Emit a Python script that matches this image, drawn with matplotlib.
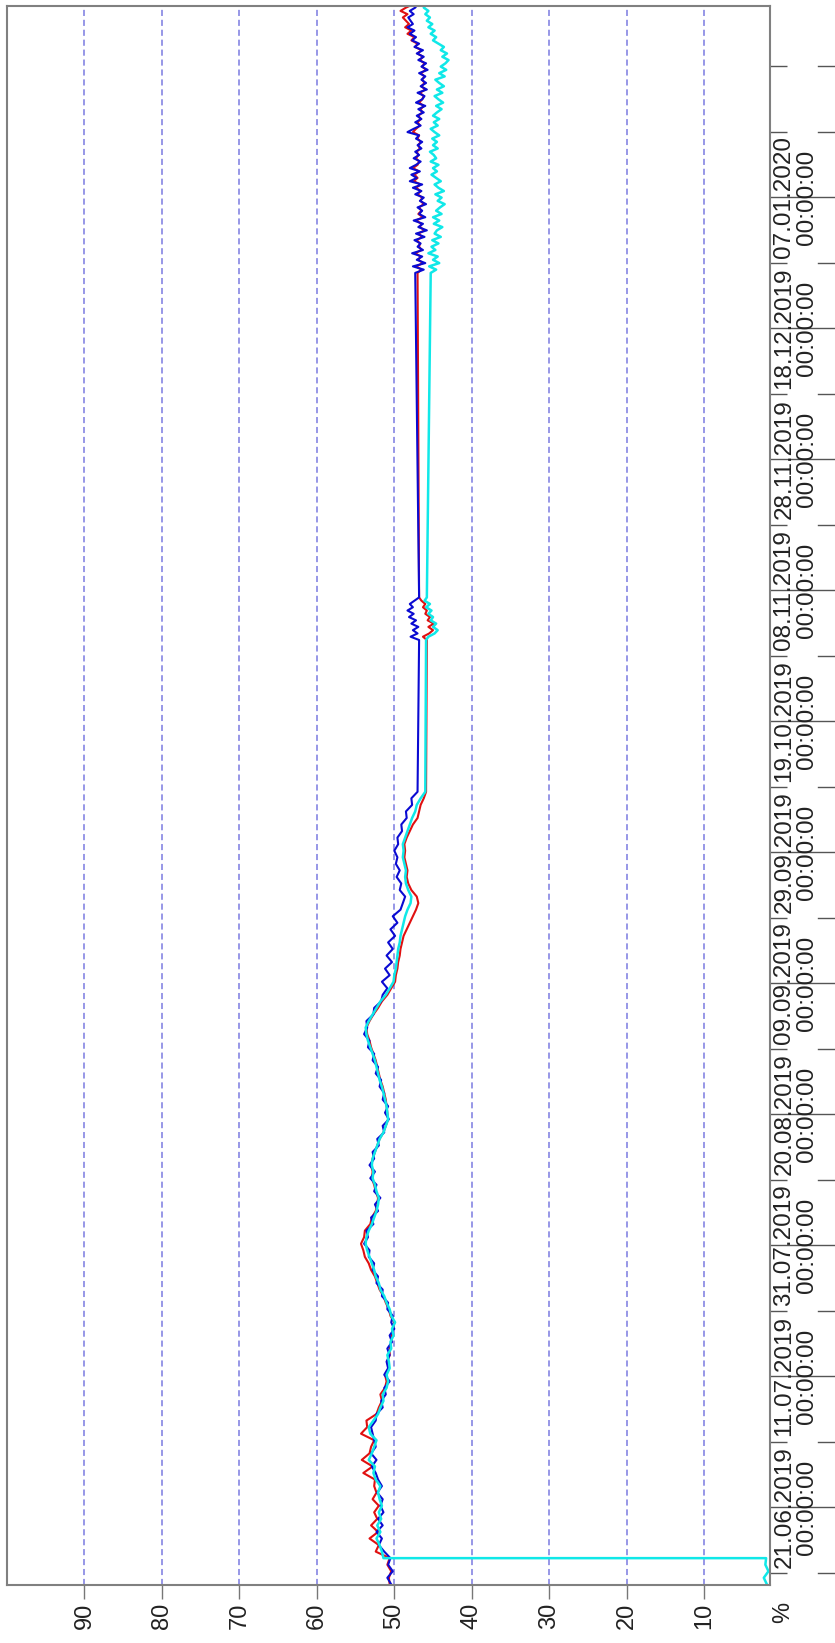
import numpy as np
import pandas as pd
import matplotlib
matplotlib.use("Agg")
import matplotlib.pyplot as plt
import matplotlib.dates as mdates
from matplotlib.ticker import FixedLocator

plt.rcParams['font.family'] = ['Liberation Sans', 'DejaVu Sans']

# time stamps of the three recorded stretches
times_a = pd.date_range("2019-06-09 04:48", periods=122, freq="D")
times_b = pd.date_range("2019-10-31 09:00", periods=14, freq="12h")
times_c = pd.date_range("2019-12-26 10:00", periods=83, freq="12h")

# cyan sensor reads ~2 % until it switches on, then jumps straight up
cyan_low = [1.9, 2.3, 1.7, 2.1, 2.0]
cyan_a = [51.4,
          51.6, 51.9, 52.3, 51.8, 52.2, 51.7, 52.0,
          51.6, 51.9, 52.1, 51.8, 52.4, 52.7, 52.5, 53.3, 52.9, 52.6,
          52.3, 53.1, 53.3, 52.7, 52.1, 51.8, 51.4, 51.5, 51.0, 50.8,
          51.0, 50.6, 50.7, 50.9, 50.4, 50.5, 50.1, 50.3, 49.9, 50.4,
          50.6, 51.0, 51.3, 51.8, 52.0, 52.4, 52.6, 52.9, 53.2, 53.5,
          53.7, 53.6, 53.3, 52.9, 52.6, 52.3, 52.1, 52.0, 52.3, 52.5,
          52.8, 52.7, 52.9, 52.8, 52.5, 52.2, 51.9, 51.4, 51.1, 50.8,
          50.9, 51.0, 51.2, 51.4, 51.6, 51.9, 52.1, 52.3, 52.5, 52.8,
          53.1, 53.4, 53.6, 53.7, 53.3, 52.8, 52.3, 51.8, 51.1, 50.6,
          50.1, 50.0, 49.8, 49.7, 49.6, 49.5, 49.3, 49.2, 49.0, 48.8,
          48.6, 48.3, 47.9, 47.8, 48.2, 48.5, 48.6, 48.5, 48.7, 48.9,
          48.8, 48.9, 48.6, 48.3, 48.0, 47.7, 47.3, 47.1, 46.6, 46.0]
blue_a = [50.4, 50.9, 50.2, 50.8, 50.5,
          51.3, 52.0, 51.6, 52.3, 51.5, 52.1, 51.4,
          51.8, 51.5, 52.2, 51.6, 52.1, 52.4, 52.9, 52.3, 53.0, 52.4,
          52.6, 52.8, 53.0, 52.4, 52.3, 51.5, 51.7, 51.1, 51.3, 50.6,
          51.3, 50.8, 51.0, 50.6, 50.9, 50.3, 50.6, 50.0, 50.4, 50.2,
          50.9, 50.8, 51.6, 51.5, 52.3, 52.1, 52.8, 52.6, 53.3, 53.2,
          53.9, 53.4, 53.6, 52.7, 53.0, 52.1, 52.5, 51.8, 52.6, 52.3,
          53.1, 52.5, 53.2, 52.6, 52.8, 52.0, 52.2, 51.3, 51.5, 50.7,
          51.2, 50.8, 51.5, 51.3, 51.9, 51.7, 52.4, 52.1, 52.8, 52.6,
          53.4, 53.2, 53.9, 53.5, 53.6, 52.7, 52.6, 51.7, 51.5, 50.9,
          51.6, 50.6, 51.2, 50.3, 51.0, 50.2, 50.8, 49.9, 50.5, 49.6,
          50.2, 49.2, 48.9, 48.6, 49.3, 49.1, 49.7, 49.3, 49.8, 49.6,
          50.0, 49.5, 49.6, 49.0, 49.1, 48.4, 48.5, 47.7, 47.8, 47.0]
red_a = [50.6, 50.7, 50.4, 50.9, 50.6,
         52.4, 52.0, 53.2, 52.1, 53.0, 52.2, 52.6,
         52.0, 52.8, 52.3, 52.6, 52.5, 54.0, 52.8, 54.2, 53.2, 53.0,
         52.6, 54.3, 53.5, 53.6, 52.3, 52.0, 51.6, 51.8, 51.2, 51.0,
         51.2, 50.7, 50.9, 50.6, 50.6, 50.4, 50.3, 50.2, 50.0, 50.5,
         50.7, 51.1, 51.4, 51.9, 52.2, 52.5, 53.0, 53.3, 53.8, 54.0,
         54.3, 53.9, 53.8, 53.1, 52.9, 52.4, 52.2, 52.1, 52.4, 52.6,
         52.9, 52.8, 53.0, 52.8, 52.5, 52.2, 51.9, 51.4, 51.1, 50.8,
         50.9, 51.0, 51.1, 51.3, 51.5, 51.8, 52.0, 52.2, 52.4, 52.7,
         53.0, 53.2, 53.5, 53.6, 53.2, 52.7, 52.1, 51.6, 50.9, 50.4,
         49.9, 49.8, 49.6, 49.5, 49.3, 49.2, 49.0, 48.8, 48.4, 48.0,
         47.6, 47.2, 46.9, 47.1, 47.8, 48.2, 48.4, 48.3, 48.5, 48.7,
         48.6, 48.7, 48.4, 48.0, 47.6, 47.0, 46.8, 46.6, 46.2, 45.9]

cyan_b = [45.9, 45.6, 44.8, 44.4, 45.0, 44.6, 45.3, 45.0, 45.6, 45.2, 45.9, 45.4, 46.1, 45.8]
blue_b = [46.8, 47.9, 47.0, 47.6, 46.9, 47.8, 47.2, 48.1, 47.5, 48.3, 47.6, 48.0, 47.4, 46.8]
red_b = [45.8, 46.3, 45.5, 45.0, 45.6, 44.9, 45.7, 45.4, 46.0, 45.8, 46.3, 46.0, 46.5, 46.8]

cyan_c = [45.3, 44.6, 45.5, 44.2, 45.0, 44.4, 45.6, 44.7, 45.2, 44.3,
          45.1, 44.0, 44.8, 44.5, 43.8, 44.9, 44.2, 45.0, 43.9, 44.6,
          44.1, 43.5, 44.4, 43.9, 44.7, 43.6, 44.3, 44.8, 44.0, 44.6,
          45.2, 44.5, 45.0, 44.3, 45.3, 44.6, 44.9, 45.4, 44.4, 45.0,
          44.5, 45.1, 44.2, 44.8, 45.3, 44.4, 44.9, 44.2, 45.0, 44.5,
          43.9, 44.6, 43.7, 44.3, 44.8, 43.8, 44.5, 43.6, 44.2, 44.7,
          43.5, 44.2, 43.3, 44.0, 43.4, 43.0, 43.8, 43.2, 44.0, 43.6,
          44.3, 45.0, 44.6, 45.3, 44.8, 45.6, 45.1, 45.8, 45.4, 46.0,
          45.6, 46.2, 45.9]
blue_c = [47.3, 46.2, 47.6, 46.0, 47.1, 46.4, 47.7, 46.3, 47.0, 46.6,
          47.4, 46.1, 47.2, 45.8, 46.9, 46.3, 47.5, 46.0, 46.8, 46.4,
          47.0, 45.9, 46.7, 46.2, 47.3, 46.5, 47.6, 46.4, 48.0, 47.1,
          47.8, 46.7, 48.0, 47.2, 46.6, 47.5, 46.8, 47.3, 46.5, 47.0,
          46.4, 47.2, 46.8, 48.3, 47.5, 46.6, 47.3, 46.5, 47.1, 46.2,
          46.9, 46.0, 47.2, 46.4, 46.1, 47.0, 45.8, 46.6, 45.9, 46.5,
          46.0, 46.8, 45.7, 46.5, 45.9, 46.9, 46.2, 47.1, 46.3, 47.4,
          46.8, 47.7, 47.2, 48.0, 47.4, 48.3, 47.6, 47.9, 48.2, 47.5,
          48.0, 47.3, 47.0]
red_c = [47.0, 46.5, 47.2, 46.3, 46.9, 46.6, 47.3, 46.5, 46.8, 46.7,
         47.1, 46.4, 46.9, 46.1, 46.7, 46.5, 47.2, 46.3, 46.9, 46.5,
         46.8, 46.2, 46.6, 46.4, 47.0, 46.6, 47.2, 46.6, 47.5, 47.0,
         47.4, 46.8, 47.6, 47.0, 46.8, 47.2, 46.9, 47.1, 46.7, 46.9,
         46.6, 47.0, 46.8, 47.6, 47.2, 46.7, 47.0, 46.6, 46.9, 46.4,
         46.6, 46.2, 46.8, 46.4, 46.2, 46.7, 46.0, 46.5, 46.1, 46.4,
         46.1, 46.6, 45.9, 46.4, 46.1, 46.7, 46.3, 47.0, 46.5, 47.3,
         47.0, 47.8, 47.4, 48.3, 47.8, 48.6, 48.1, 48.5, 48.9, 48.3,
         49.2, 48.5, 47.6]

value_ticks = [10, 20, 30, 40, 50, 60, 70, 80, 90]
date_ticks = pd.date_range("2019-06-21", "2020-01-07", freq="20D")
date_minor = pd.date_range("2019-06-11", "2020-01-27", freq="10D")
date_lim = (pd.Timestamp("2019-06-09 02:24"), pd.Timestamp("2020-02-05 04:00"))

times = times_a.append(times_b).append(times_c)
# cyan gets its jump point at the same instant as its last low reading
cyan_times = times_a[:5].append(times_a[4:]).append(times_b).append(times_c)

W, H = 835, 1643
fig = plt.figure(figsize=(W / 100, H / 100), dpi=100)
ax = fig.add_axes([7 / W, 1 - 1585 / H, (770 - 7) / W, (1585 - 6) / H])

# chart is drawn turned on its side: value runs right->left, time runs upward
ax.plot(red_a + red_b + red_c, times, color="#e01010", lw=1.5)
ax.plot(blue_a + blue_b + blue_c, times, color="#0a0ad2", lw=1.5)
ax.plot(cyan_low + cyan_a + cyan_b + cyan_c, cyan_times, color="#10e8e8", lw=1.8)

ax.set_xlim(100, 1.5)
ax.set_ylim(*date_lim)

grid_col = "#7a7ae0"
for v in value_ticks:
    ax.axvline(v, color=grid_col, lw=1.1, ls=(0, (4, 2.5)), zorder=0)

ax.set_xticks(value_ticks)
ax.set_xticklabels([str(v) for v in value_ticks], rotation=90, fontsize=17, color="#222222")
ax.tick_params(axis="x", direction="out", length=10, width=1, color="#777777", pad=3)

ax.yaxis.tick_right()
ax.yaxis.set_major_locator(FixedLocator(mdates.date2num(date_ticks)))
ax.yaxis.set_minor_locator(FixedLocator(mdates.date2num(date_minor)))
ax.yaxis.set_major_formatter(mdates.DateFormatter("%d.%m.%Y\n%H:%M:%S"))
ax.tick_params(axis="y", which="major", direction="out", length=50, width=1,
               color="#555555", pad=-47.5, labelsize=17.5, labelcolor="#222222")
ax.tick_params(axis="y", which="minor", direction="out", length=12, width=1, color="#555555")
for lab in ax.get_yticklabels():
    lab.set_rotation(90)
    lab.set_va("center")
    lab.set_ha("left")
    lab.set_multialignment("center")
    lab.set_linespacing(1.05)

# outer pieces of the minor ticks
tr = ax.get_yaxis_transform()
for loc in ax.yaxis.get_minorticklocs():
    ax.plot([1.063, 1.09], [loc, loc], transform=tr, clip_on=False, color="#555555", lw=1)

for s in ax.spines.values():
    s.set_color("#808080")
    s.set_linewidth(1.5)

fig.text(783 / W, 1 - 1612 / H, "%", rotation=90, ha="center", va="center",
         fontsize=17, color="#222222")

fig.savefig("out.png", dpi=100)
